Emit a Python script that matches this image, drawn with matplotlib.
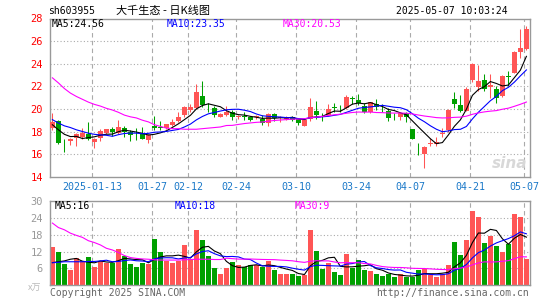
import numpy as np
import pandas as pd
import matplotlib
matplotlib.use("Agg")
import matplotlib.pyplot as plt

# daily candles 2025-01-02 .. 2025-05-07 (80 trading days)
opens = [18.3, 18.95, 17.0, 17.2, 17.45, 17.5, 17.8, 17.1, 17.4, 17.9,
         18.2, 17.9, 18.3, 17.95, 17.8, 17.85, 17.25, 18.5, 18.35, 18.35,
         18.6, 18.95, 19.45, 19.9, 20.05, 21.15, 20.1, 20.05, 19.3, 19.5,
         19.75, 19.3, 19.35, 19.3, 19.25, 19.15, 18.75, 19.55, 19.2, 19.15,
         19.3, 19.1, 18.5, 19.1, 19.8, 19.35, 19.5, 20.15, 20.1, 20.05,
         20.95, 20.8, 20.3, 19.7, 20.4, 20.1, 19.8, 19.3, 19.25, 19.65,
         18.2, 16.55, 16.0, 16.85, 16.85, 17.75, 18.15, 20.9, 20.35, 19.85,
         22.55, 21.95, 22.55, 21.9, 21.8, 21.15, 22.9, 23.2, 25.0, 25.3]
highs = [19.6, 19.05, 17.3, 17.4, 17.9, 18.3, 18.85, 17.4, 18.2, 18.25,
         18.4, 19.0, 18.45, 18.1, 18.3, 18.4, 17.8, 19.4, 18.95, 18.7,
         19.1, 19.7, 20.3, 20.4, 22.2, 22.45, 20.5, 20.3, 19.6, 20.25,
         19.9, 19.5, 19.7, 19.4, 19.5, 19.5, 19.65, 19.6, 19.4, 19.35,
         19.35, 19.2, 19.05, 21.0, 20.7, 19.6, 20.4, 20.5, 20.35, 21.25,
         21.15, 21.3, 20.5, 20.65, 20.9, 20.4, 20.05, 19.6, 19.7, 19.75,
         18.25, 16.95, 16.7, 17.4, 17.5, 18.35, 19.95, 21.5, 21.2, 21.9,
         24.05, 23.9, 23.1, 23.05, 22.05, 23.0, 23.35, 25.15, 27.1, 27.35]
lows = [18.1, 16.85, 16.2, 16.8, 16.75, 17.3, 17.25, 16.55, 17.2, 17.75,
        17.6, 17.8, 17.55, 17.2, 17.25, 17.3, 17.0, 18.1, 18.15, 18.25,
        18.45, 18.85, 19.3, 19.7, 19.95, 20.2, 19.75, 19.25, 19.25, 19.4,
        19.0, 19.1, 19.05, 18.9, 19.1, 18.6, 18.5, 18.95, 18.85, 19.0,
        18.95, 18.6, 18.45, 18.95, 19.15, 18.9, 19.45, 19.75, 19.75, 19.95,
        20.4, 20.35, 19.6, 19.6, 19.9, 19.75, 18.9, 19.05, 19.05, 18.8,
        17.3, 15.9, 14.75, 16.7, 16.7, 17.5, 18.0, 20.05, 19.75, 19.8,
        22.4, 21.6, 21.6, 20.95, 20.55, 21.05, 22.0, 23.15, 24.5, 25.2]
closes = [18.85, 16.95, 16.95, 17.35, 17.75, 17.9, 17.35, 17.3, 18.05, 18.2,
          17.95, 18.4, 18.0, 17.65, 17.75, 17.35, 17.7, 18.3, 18.3, 18.65,
          18.85, 19.3, 20.15, 20.2, 21.5, 20.35, 20.05, 19.5, 19.55, 19.75,
          19.25, 19.4, 19.3, 19.0, 19.35, 18.75, 19.55, 19.2, 19.25, 19.25,
          19.05, 18.75, 19.0, 20.15, 19.5, 19.3, 20.0, 20.1, 20.05, 21.05,
          20.9, 20.5, 19.75, 20.6, 20.15, 20.05, 19.2, 19.25, 19.6, 19.3,
          17.35, 16.5, 16.65, 17.0, 17.1, 17.85, 19.9, 20.45, 19.85, 21.8,
          24.0, 22.45, 21.75, 22.1, 20.95, 22.9, 22.85, 25.05, 25.4, 27.05]
# volume, 万手
volumes = [13.6, 11.8, 7.5, 5.4, 9.6, 8.7, 10.0, 6.4, 8.7, 7.8,
           8.1, 12.9, 10.6, 7.6, 6.7, 7.8, 7.5, 16.5, 12.0, 8.7,
           7.8, 8.8, 14.3, 9.0, 19.7, 16.1, 10.3, 6.1, 4.2, 6.0,
           8.4, 7.2, 6.6, 7.2, 7.2, 6.4, 8.8, 5.4, 4.2, 4.2,
           3.9, 3.3, 3.6, 19.7, 12.1, 5.8, 7.8, 4.6, 3.5, 11.1,
           6.0, 8.9, 5.4, 5.1, 4.2, 3.3, 4.0, 2.8, 3.9, 2.8,
           2.9, 5.6, 5.8, 3.5, 2.8, 3.9, 7.2, 15.4, 10.8, 16.1,
           26.6, 24.4, 15.0, 17.7, 14.1, 11.8, 14.7, 25.6, 24.4, 9.4]

ma5_head = [18.6, 18.15, 17.75, 17.55]
ma10_head = [19.05, 18.75, 18.5, 18.35, 18.15, 18.0, 17.85, 17.75, 17.7]
ma30_head = [22.75, 22.3, 21.8, 21.4, 21.1, 20.85, 20.6, 20.4, 20.25, 20.05,
             19.9, 19.7, 19.45, 19.3, 19.2, 19.0, 18.85, 18.6, 18.45, 18.3,
             18.25, 18.25, 18.2, 18.2, 18.2, 18.25, 18.3, 18.35, 18.4]
vma5_head = [8.1, 8.4, 8.7, 9.3]
vma10_head = [8.05, 8.2, 8.4, 8.4, 8.4, 8.4, 8.5, 8.5, 8.7]
vma30_head = [22.2, 20.6, 19.8, 18.6, 17.8, 17.1, 15.9, 15.25, 14.4, 13.2,
              12.6, 11.7, 10.6, 9.9, 9.6, 9.4, 9.3, 9.1, 9.0, 9.0,
              9.0, 9.0, 9.1, 9.2, 9.3, 9.3, 9.3, 9.2, 9.2]

tick_idx = [7, 17, 23, 31, 41, 51, 60, 70, 79]
tick_labels = ["2025-01-13", "01-27", "02-12", "02-24", "03-10",
               "03-24", "04-07", "04-21", "05-07"]

RED = "#ff5555"
GREEN = "#00a000"
GRID = "#aaaaaa"
FRAME = "#999999"
MONO = "DejaVu Sans Mono"
CJK = ["Noto Sans CJK SC", "DejaVu Sans"]


def moving(values, n, head):
    s = pd.Series(values).rolling(n).mean()
    s.iloc[:len(head)] = head
    return s.values


W, H = 545, 300
fig = plt.figure(figsize=(W / 100, H / 100), dpi=100)


def px(x, y):
    return x / W, 1 - y / H


ax = fig.add_axes([50 / W, 1 - 176.7 / H, 480 / W, (176.7 - 18.5) / H])
axv = fig.add_axes([50 / W, 1 - 285.3 / H, 480 / W, (285.3 - 201.2) / H])

x = np.arange(len(closes))
o = np.array(opens)
c = np.array(closes)
up = c >= o
colors = np.where(up, RED, GREEN)

# grid
for a, levels in ((ax, [16, 18, 20, 22, 24, 26]), (axv, [6, 12, 18, 24])):
    for lv in levels:
        a.axhline(lv, color=GRID, lw=0.8, ls=(0, (1, 2)), zorder=0)
    for t in tick_idx:
        a.axvline(t - 0.33, color=GRID, lw=0.8, ls=(0, (4, 3)), zorder=0)

# candles
ax.vlines(x, lows, highs, colors=colors, lw=0.75, zorder=2)
body = np.maximum(np.abs(c - o), 0.06)
ax.bar(x, body, bottom=np.minimum(o, c), width=0.78, color=colors,
       linewidth=0, zorder=3)

ax.plot(x, moving(closes, 5, ma5_head), color="black", lw=0.8, zorder=4)
ax.plot(x, moving(closes, 10, ma10_head), color="#0000ff", lw=0.8, zorder=4)
ax.plot(x, moving(closes, 30, ma30_head), color="#ff00ff", lw=0.8, zorder=4)

# volume
axv.bar(x, volumes, width=0.78, color=colors, linewidth=0, zorder=2)
axv.plot(x, moving(volumes, 5, vma5_head), color="black", lw=0.8, zorder=4)
axv.plot(x, moving(volumes, 10, vma10_head), color="#0000ff", lw=0.8, zorder=4)
axv.plot(x, moving(volumes, 30, vma30_head), color="#ff00ff", lw=0.8, zorder=4)

for a in (ax, axv):
    a.set_xlim(-0.4, 79.6)
    for sp in a.spines.values():
        sp.set_color(FRAME)
        sp.set_linewidth(1.0)
    a.tick_params(length=0)

ax.set_ylim(14, 28)
ax.set_yticks(range(14, 29, 2))
ax.set_yticklabels([str(v) for v in range(14, 29, 2)], color="#ff0000",
                   fontsize=7.5, family=MONO)
ax.tick_params(axis="y", pad=5)
ax.set_xticks([t - 0.33 for t in tick_idx])
ax.set_xticklabels(tick_labels, color="#1a78c8", fontsize=7.2, family=MONO)
ax.tick_params(axis="x", pad=4)

axv.set_ylim(0, 30)
axv.set_yticks([6, 12, 18, 24, 30])
axv.set_yticklabels(["6", "12", "18", "24", "30"], color="#999999",
                    fontsize=7.5, family=MONO)
axv.tick_params(axis="y", pad=5)
axv.set_xticks([])

# header texts
fig.text(*px(48, 11), "sh603955", fontsize=7, family=MONO, va="center")
fig.text(*px(116, 11), "大千生态 - 日K线图", fontsize=8, family=CJK, va="center")
fig.text(*px(508, 11), "2025-05-07 10:03:24", fontsize=7, family=MONO,
         va="center", ha="right")

fig.text(*px(52, 24), "MA5:24.56", fontsize=7, family=MONO, va="center")
fig.text(*px(167, 24), "MA10:23.35", fontsize=7, family=MONO, va="center",
         color="#0000ff")
fig.text(*px(283, 24), "MA30:20.53", fontsize=7, family=MONO, va="center",
         color="#ff00ff")

fig.text(*px(55, 206), "MA5:16", fontsize=7, family=MONO, va="center")
fig.text(*px(175, 206), "MA10:18", fontsize=7, family=MONO, va="center",
         color="#0000ff")
fig.text(*px(295, 206), "MA30:9", fontsize=7, family=MONO, va="center",
         color="#ff00ff")

fig.text(*px(28, 288), "x万", fontsize=6.5, family=CJK, va="center",
         color="#bbbbbb")
fig.text(*px(50, 293), "Copyright 2025 SINA.COM", fontsize=7, family=MONO,
         va="center", color="#666666")
fig.text(*px(529, 293), "http://finance.sina.com.cn", fontsize=7, family=MONO,
         va="center", ha="right", color="#666666")

# faint sina mark
fig.text(*px(527, 163), "sina", fontsize=11, weight="bold", style="italic",
         color="#d8d8d8", ha="right", va="center", zorder=1)

fig.savefig("out.png", dpi=100)
